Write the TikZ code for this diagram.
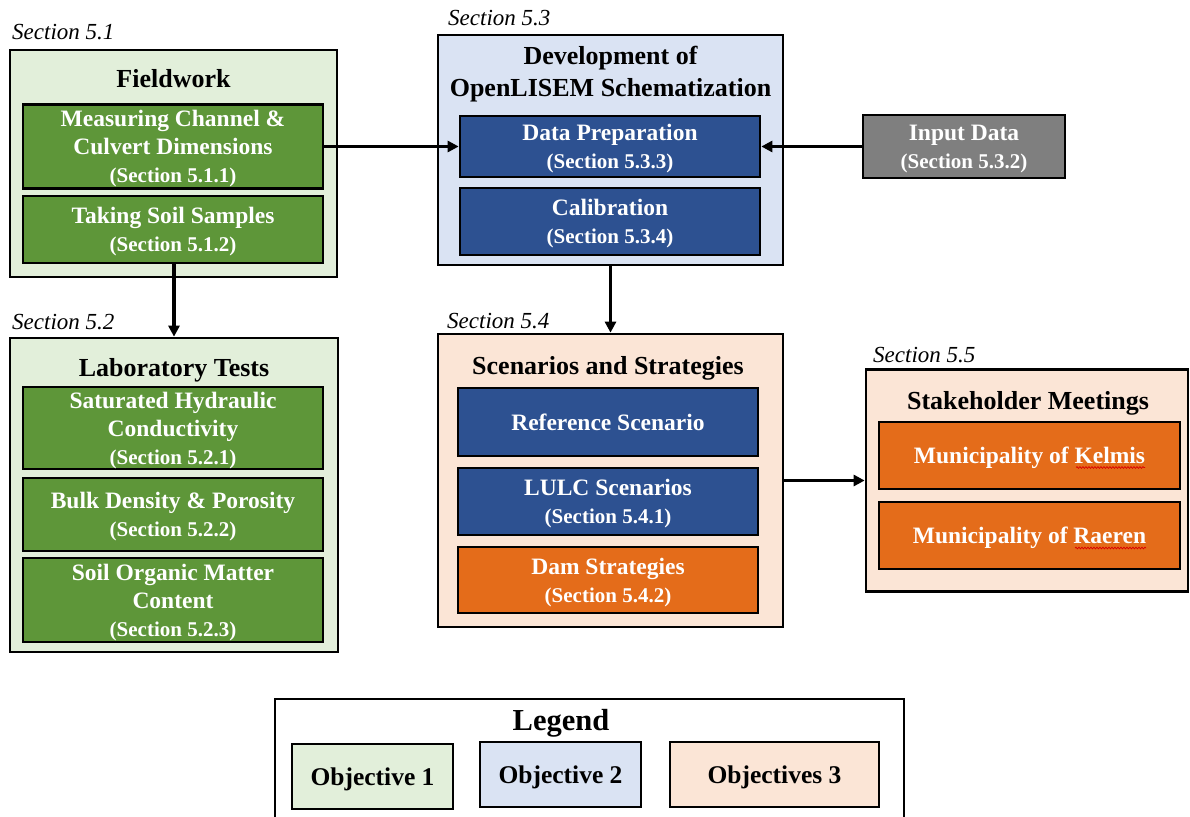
\documentclass[tikz,border=0pt]{standalone}
\usepackage{fontspec}
\setmainfont{Liberation Serif}
\usetikzlibrary{arrows.meta,decorations.pathmorphing}

\definecolor{objA}{HTML}{E2EFDA}
\definecolor{objAdark}{HTML}{5E9639}
\definecolor{objB}{HTML}{DAE3F3}
\definecolor{objBdark}{HTML}{2D5191}
\definecolor{objC}{HTML}{FBE5D6}
\definecolor{objCdark}{HTML}{E46C1A}
\definecolor{inputgray}{HTML}{7F7F7F}

\newcommand\secnote[1]{{\fontsize{21}{27}\selectfont #1}}

\tikzset{
  panel/.style={draw=black, line width=2.7pt, inner sep=0pt},
  card/.style={draw=black, line width=2.7pt, inner sep=0pt, text=white,
    align=center, text depth=-3pt, font=\bfseries\fontsize{23.5}{28}\selectfont},
  paneltitle/.style={inner sep=0pt, align=center, text depth=-3pt,
    font=\bfseries\fontsize{26}{32}\selectfont},
  seclabel/.style={inner sep=0pt, anchor=base west,
    font=\itshape\fontsize{23}{27}\selectfont},
  legendbox/.style={draw=black, line width=2.7pt, inner sep=0pt, text depth=-1pt,
    font=\bfseries\fontsize{25.5}{30}\selectfont},
  arr/.style={line width=3.3pt, -{Triangle[length=11pt,width=11pt]}},
  spellmark/.style={draw=red!85!black, line width=0.7pt,
    decorate, decoration={snake, amplitude=0.9pt, segment length=3pt}}
}

\begin{document}
\begin{tikzpicture}[x=1pt, y=-1pt]
\clip (0,0) rectangle (1190,816);

% ---------- Objective 1: fieldwork ----------
\node[seclabel] (secA) at (12,40) {Section 5.1};
\node[panel, fill=objA, minimum width=327, minimum height=227] (F) at (173.5,163.5) {};
\node[paneltitle] (Ft) at (173.5,78) {Fieldwork};
\node[card, fill=objAdark, minimum width=300, minimum height=84] (M1) at (173,146.5)
  {Measuring Channel \&\\Culvert Dimensions\\\secnote{(Section 5.1.1)}};
\node[card, fill=objAdark, minimum width=300, minimum height=67] (M2) at (173,229.5)
  {Taking Soil Samples\\\secnote{(Section 5.1.2)}};

% ---------- Objective 1: laboratory ----------
\node[seclabel] (secB) at (12,329) {Section 5.2};
\node[panel, fill=objA, minimum width=328, minimum height=314] (L) at (174,495) {};
\node[paneltitle] (Lt) at (174,367) {Laboratory Tests};
\node[card, fill=objAdark, minimum width=300, minimum height=82] (L1) at (173,428)
  {Saturated Hydraulic\\Conductivity\\\secnote{(Section 5.2.1)}};
\node[card, fill=objAdark, minimum width=300, minimum height=73] (L2) at (173,514.5)
  {Bulk Density \& Porosity\\\secnote{(Section 5.2.2)}};
\node[card, fill=objAdark, minimum width=300, minimum height=84] (L3) at (173,600)
  {Soil Organic Matter\\Content\\\secnote{(Section 5.2.3)}};

% ---------- Objective 2: schematization ----------
\node[seclabel] (secC) at (448,26) {Section 5.3};
\node[panel, fill=objB, minimum width=345, minimum height=230] (D) at (610.5,150) {};
\node[paneltitle] (Dt) at (610.5,71) {Development of\\OpenLISEM Schematization};
\node[card, fill=objBdark, minimum width=300, minimum height=61] (D1) at (610,146.5)
  {Data Preparation\\\secnote{(Section 5.3.3)}};
\node[card, fill=objBdark, minimum width=300, minimum height=67] (D2) at (610,221.5)
  {Calibration\\\secnote{(Section 5.3.4)}};

\node[card, fill=inputgray, minimum width=202, minimum height=63] (In) at (964,146.5)
  {Input Data\\\secnote{(Section 5.3.2)}};

% ---------- Scenarios ----------
\node[seclabel] (secD) at (447,328) {Section 5.4};
\node[panel, fill=objC, minimum width=345, minimum height=293] (S) at (610.5,480.5) {};
\node[paneltitle] (St) at (608,365) {Scenarios and Strategies};
\node[card, fill=objBdark, minimum width=300, minimum height=68] (S1) at (608,422)
  {Reference Scenario};
\node[card, fill=objBdark, minimum width=300, minimum height=67] (S2) at (608,501.5)
  {LULC Scenarios\\\secnote{(Section 5.4.1)}};
\node[card, fill=objCdark, minimum width=300, minimum height=66] (S3) at (608,580)
  {Dam Strategies\\\secnote{(Section 5.4.2)}};

% ---------- Stakeholders ----------
\node[seclabel] (secE) at (873,362) {Section 5.5};
\node[panel, fill=objC, minimum width=322, minimum height=222] (K) at (1027,480.5) {};
\node[paneltitle] (Kt) at (1028,400) {Stakeholder Meetings};
\node[card, fill=objCdark, minimum width=301, minimum height=67] (K1) at (1029.5,455.5)
  {Municipality of Kelmis};
\node[card, fill=objCdark, minimum width=301, minimum height=67] (K2) at (1029.5,535.5)
  {Municipality of Raeren};
% spell-check marks under the place names
\path[spellmark] ([shift={(46.5,12)}]K1.center) -- ([shift={(115.5,12)}]K1.center);
\path[spellmark] ([shift={(45.5,12.5)}]K2.center) -- ([shift={(116.5,12.5)}]K2.center);

% ---------- connectors ----------
\draw[arr] (M1.east) -- (M1.east -| D1.west);
\draw[arr] (In.west) -- (In.west -| D1.east);
\draw[arr] (M2.south -| L.north) -- (L.north);
\draw[arr] (D.south) -- (S.north);
\draw[arr] (S.east) -- (S.east -| K.west);

% ---------- legend ----------
\node[panel, fill=white, minimum width=629, minimum height=120] (Lg) at (589.5,759) {};
\node[paneltitle, font=\bfseries\fontsize{30.5}{34}\selectfont] (Lgt) at (561,720) {Legend};
\node[legendbox, fill=objA, minimum width=161, minimum height=65] (O1) at (372.5,776.5) {Objective 1};
\node[legendbox, fill=objB, minimum width=161, minimum height=65] (O2) at (560.5,774.5) {Objective 2};
\node[legendbox, fill=objC, minimum width=209, minimum height=65] (O3) at (774.5,774.5) {Objectives 3};
\end{tikzpicture}
\end{document}
